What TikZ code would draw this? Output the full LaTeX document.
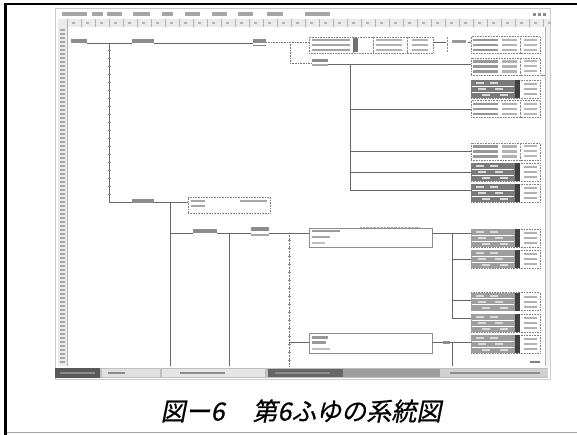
\documentclass[tikz,border=0pt]{standalone}
\usepackage{fontspec}
\newfontfamily\jpfont[FakeSlant=0.2,FakeBold=0.6]{Noto Sans CJK JP}
\tikzset{
  line/.style={black!60,line width=0.6pt},
  dline/.style={black!55,line width=0.6pt,densely dotted},
  dbox/.style={draw=black!50,densely dotted,line width=0.6pt,inner sep=0pt},
  sbox/.style={draw=black!45,line width=0.6pt,inner sep=0pt},
  lbl/.style={fill=black!45,inner sep=0pt,minimum height=3.5pt,minimum width=#1},
}
\newcommand\rboxlight[2]{%
  \node[dbox,minimum width=69pt,minimum height=17pt] (#1) at (505.5,#2) {};
  \draw[black!45,densely dotted] (520,{#2-8.5}) -- (520,{#2+8.5});
  \foreach \r in {-5,0,5}{%
    \fill[black!40] (473,{#2+\r-1.2}) rectangle (498,{#2+\r+1.2});
    \fill[black!30] (502,{#2+\r-1.2}) rectangle (517,{#2+\r+1.2});
    \fill[black!28] (524,{#2+\r-1}) rectangle (537,{#2+\r+1});}
}
\newcommand\rboxdark[3]{%
  \node[dbox,minimum width=69pt,minimum height=18pt] (#1) at (505.5,#2) {};
  \fill[black!#3] (471,{#2-9}) rectangle (520,{#2+9});
  \foreach \r in {-3,3}{\draw[white,line width=0.6pt] (472,{#2+\r}) -- (514,{#2+\r});}
  \foreach \a/\r in {476/-6,490/-6,478/0,495/0,482/6,500/6}{%
    \fill[black!15] (\a,{#2+\r-1}) rectangle ({\a+8},{#2+\r+1});}
  \fill[black!75] (515,{#2-9}) rectangle (520,{#2+9});
  \foreach \r in {-5,0,5}{\fill[black!30] (524,{#2+\r-1}) rectangle (537,{#2+\r+1});}
}
\begin{document}
\begin{tikzpicture}[x=1pt,y=-1pt]
\useasboundingbox (0,0) rectangle (577,435);
\fill[white] (0,0) rectangle (577,435);
% page frame
\draw[line width=3pt,black] (5.5,3) -- (5.5,435);
\draw[line width=2.5pt,black] (4,4.2) -- (577,4.2);
\draw[black!35,line width=0.8pt] (7,432) -- (577,432);
% window
\draw[black!20] (55,8) rectangle (550,379);
\foreach \a/\b in {62/87,92/103,107/122,133/150,162/173,185/200,212/227,238/253,267/283,305/330}
  \fill[black!35] (\a,12.5) rectangle (\b,16.5);
\foreach \a in {533,538,543} \fill[black!45] (\a,13) rectangle ({\a+3},16);
\fill[black!8] (58,19) rectangle (550,27);
\foreach \x in {67,81,...,545} {\draw[black!30] (\x,19) -- (\x,27); \fill[black!30] ({\x+5},22) rectangle ({\x+8},24.5);}
\fill[black!8] (58,27) rectangle (67,366);
\draw[black!30] (67,27) -- (67,366);
\foreach \y in {29,33,...,363} \fill[black!35] (60,\y) rectangle (65,{\y+1.6});
\fill[black!5] (545,27) rectangle (550,366);
\draw[black!30] (545,27) -- (545,366);
% taskbar
\fill[black!25] (55,368) rectangle (548,378);
\fill[black!65] (55,368) rectangle (100,378);
\fill[black!12] (102,369) rectangle (160,377);
\fill[black!10] (162,369) rectangle (265,377);
\fill[black!60] (268,369) rectangle (343,377);
\fill[black!38] (343,369) rectangle (440,377);
\fill[black!18] (440,369) rectangle (548,377);
\foreach \a/\b in {60/95,108/125,180/225,275/330,450/540} \fill[black!45] (\a,371.5) rectangle (\b,374);
\fill[black!50] (530,361) rectangle (540,363);
% ---- tree ----
\node[lbl=16pt] (n1) at (79,41) {};
\node[lbl=22pt] (n2) at (143,41) {};
\node[lbl=13pt] (n3) at (259.5,41) {};
\draw[black!50] (253,45.5) -- (266,45.5);
\coordinate (v1t) at (109,43);
\coordinate (v1b) at (109,202);
\draw[line] (n1.east |- v1t) -- (n2.west |- v1t);
\draw[line] (n2.east |- v1t) -- (n3.west |- v1t);
\draw[line] (v1t) -- (v1b);
\foreach \y in {50,58,...,200} \draw[black!45] (107.5,\y) -- (110.5,\y);
% dotted branch
\node[dbox,minimum width=124pt,minimum height=16pt] (g1) at (371,45) {};
\foreach \x in {353,373,407} \draw[black!45,densely dotted] (\x,37) -- (\x,53);
\fill[black!55] (353,38) rectangle (358,52);
\foreach \r in {40,45,50}{\fill[black!35] (312,{\r-1}) rectangle (350,{\r+1}); \fill[black!30] (376,{\r-1}) rectangle (402,{\r+1}); \fill[black!30] (412,{\r-1}) rectangle (428,{\r+1});}
\coordinate (d1) at (290,42);
\coordinate (d2) at (290,63);
\draw[dline] (n3.east |- d1) -- (d1) -- (g1.west |- d1);
\draw[dline] (d1) -- (d2);
\node[lbl=16pt] (n7) at (320,60.5) {};
\fill[black!35] (312,64.5) rectangle (328,66.5);
\draw[dline] (d2) -- (n7.west |- d2);
% right boxes upper
\rboxlight{R1}{45}
\rboxlight{R2}{66.5}
\rboxdark{R3}{89}{52}
\rboxlight{R4}{109}
\rboxlight{R5}{151.5}
\rboxdark{R6}{172.5}{52}
\rboxdark{R7}{193.5}{52}
\draw[black!45] (540,75) -- (545,75);
\draw[line] (g1.east |- d1) -- (R1.west |- d1);
\fill[white] (446,39) rectangle (468,45);
\fill[black!40] (452,40.5) rectangle (466,43.5);
\draw[black!45,densely dotted] (447,37) -- (447,52);
\coordinate (v2t) at (350,64);
\coordinate (v2b) at (350,190);
\draw[line] (n7.east |- v2t) -- (R2.west |- v2t);
\draw[line] (v2t) -- (v2b);
\draw[line] (v2t |- R4.west) -- (R4.west);
\draw[line] (v2t |- R5.west) -- (R5.west);
\draw[line] (v2t |- R6.west) -- (R6.west);
\draw[line] (v2b) -- (R7.west |- v2b);
% second main branch
\node[lbl=22pt] (n4) at (143,201) {};
\node[dbox,minimum width=82pt,minimum height=16pt] (g2) at (229,205) {};
\foreach \r in {201,206}{\fill[black!35] (191,{\r-1}) rectangle (205,{\r+1});}
\fill[black!35] (240,200) rectangle (267,202);
\coordinate (v3t) at (170,202);
\coordinate (v3b) at (170,366);
\draw[line] (v1b) -- (n4.west |- v1b);
\draw[line] (n4.east |- v1b) -- (g2.west |- v1b);
\draw[line] (v3t) -- (v3b);
% third level
\node[lbl=24pt] (n5) at (205,231) {};
\node[lbl=18pt] (n6) at (260,229) {};
\fill[black!35] (251,234) rectangle (269,236);
\node[sbox,minimum width=123pt,minimum height=19pt] (b1) at (370.5,237.5) {};
\fill[black!40] (312,230) rectangle (340,232.5);
\fill[black!35] (312,236) rectangle (330,238);
\fill[black!25] (312,242) rectangle (325,244);
\draw[black!35,densely dotted] (360,227) -- (420,227);
\coordinate (h3) at (170,233);
\coordinate (v4t) at (229,233);
\coordinate (v4b) at (229,366);
\coordinate (v5t) at (289,233);
\coordinate (v5b) at (289,366);
\draw[line] (h3) -- (n5.west |- h3);
\draw[line] (n5.east |- h3) -- (n6.west |- h3);
\draw[line] (n6.east |- h3) -- (b1.west |- h3);
\draw[line] (v4t) -- (v4b);
\draw[dline] (v5t) -- (v5b);
\foreach \y in {240,248,...,360} \draw[black!45] (287.5,\y) -- (290.5,\y);
% lower right group
\rboxdark{L1}{238}{38}
\rboxdark{L2}{259}{38}
\rboxdark{L3}{301.5}{38}
\rboxdark{L4}{323}{38}
\rboxdark{L5}{344}{38}
\coordinate (v6t) at (452,233);
\coordinate (v6b) at (452,318);
\draw[line] (b1.east |- v6t) -- (L1.west |- v6t);
\draw[line] (v6t) -- (v6b);
\draw[line] (v6t |- L2.west) -- (L2.west);
\draw[line] (v6t |- 0,300) -- (L3.west |- 0,300);
\draw[line] (v6b) -- (L4.west |- v6b);
% bottom branch
\node[sbox,minimum width=123pt,minimum height=20pt] (b2) at (370.5,343) {};
\fill[black!40] (312,336) rectangle (328,338.5);
\fill[black!40] (312,341) rectangle (326,343.5);
\fill[black!25] (312,348) rectangle (330,350);
\coordinate (h4) at (289,342);
\coordinate (v7t) at (452,342);
\coordinate (v7b) at (452,366);
\draw[line] (h4) -- (b2.west |- h4);
\draw[line] (b2.east |- h4) -- (L5.west |- h4);
\fill[black!45] (443,340.5) rectangle (450,343.5);
\draw[line] (v7t) -- (v7b);
% caption
\node[inner sep=0pt] (cap) at (301,411) {\jpfont\fontsize{25}{25}\selectfont 図ー6\hspace{28pt}第6ふゆの系統図};
\end{tikzpicture}
\end{document}
